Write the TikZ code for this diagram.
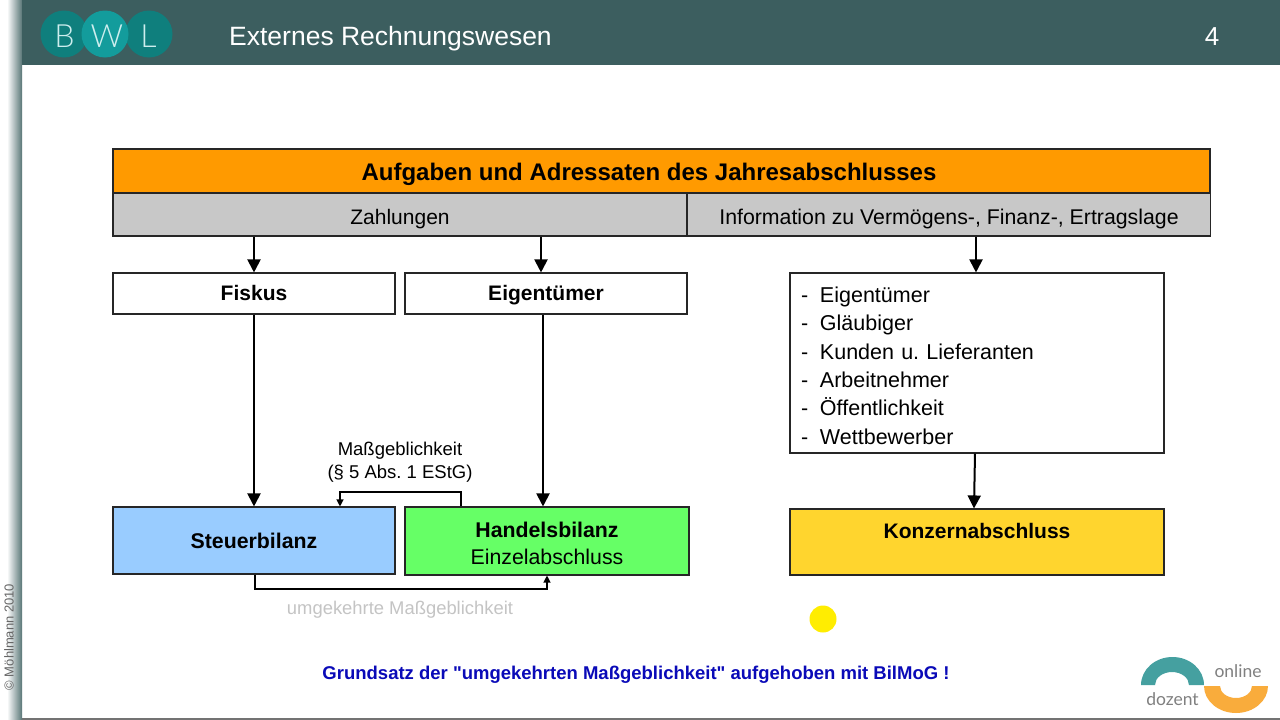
\documentclass[tikz,border=0pt]{standalone}
\usepackage{fontspec}
\setmainfont{Liberation Sans}
\newfontfamily\logofont{Lato}
\newfontfamily\logothin{Lato Light}
\usetikzlibrary{arrows.meta}
\definecolor{headteal}{HTML}{3C5E5F}
\definecolor{logodark}{HTML}{0F7F7D}
\definecolor{logolight}{HTML}{139C9C}
\definecolor{logotext}{HTML}{CDEEEE}
\definecolor{ringteal}{HTML}{45A0A0}
\definecolor{ringorange}{HTML}{F9AC3C}
\definecolor{titleorange}{HTML}{FF9A00}
\definecolor{rowgray}{HTML}{C8C8C8}
\definecolor{steuerblue}{HTML}{99CCFF}
\definecolor{handelgreen}{HTML}{66FF66}
\definecolor{konzernyellow}{HTML}{FFD52E}
\definecolor{notegray}{HTML}{C4C4C4}
\definecolor{noteblue}{HTML}{0A0AB8}
\newcommand{\fs}[2]{\fontsize{#1}{#2}\selectfont}
\newcommand{\listentry}[1]{\makebox[19pt][l]{-}#1}
\tikzset{
  box/.style={draw=black!85, line width=1.1pt, inner sep=0pt, align=center, font=\fs{21}{27}},
  bigarrow/.style={draw=black, line width=2pt, -{Triangle[width=13pt,length=13pt]}},
  smallarrow/.style={draw=black, line width=1.2pt, -{Triangle[width=7pt,length=7pt]}},
  plain/.style={inner sep=0pt, align=center}
}
\begin{document}
\begin{tikzpicture}[x=1pt,y=-1pt]
\useasboundingbox (0,0) rectangle (1280,720);
\fill[white] (0,0) rectangle (1280,720);
% frame
\shade[left color=white, right color=headteal!85] (7,0) rectangle (22,720);
\fill[headteal] (22,0) rectangle (1280,65);
\fill[black!55] (22,718) rectangle (1280,720);
% logo
\node[circle, fill=logodark, minimum size=47pt, inner sep=0pt] at (64,34) (logob) {};
\node[circle, fill=logodark, minimum size=47pt, inner sep=0pt] at (149,34) (logol) {};
\node[circle, fill=logolight, minimum size=47pt, inner sep=0pt] at (105,34) (logow) {};
\node[plain, text=logotext, font=\logothin\fs{32}{32}] at (64.5,36) (textb) {B};
\node[plain, text=logotext, font=\logothin\fs{32}{32}] at (107,36) (textw) {W};
\node[plain, text=logotext, font=\logothin\fs{32}{32}] at (148.5,36) (textl) {L};
\node[plain, text=white, anchor=west, font=\fs{26.5}{26.5}] at (229,38.5) (headline) {Externes Rechnungswesen};
\node[plain, text=white, font=\fs{26}{26}] at (1212,37) (pagenum) {4};
\node[plain, text=black!60, rotate=90, font=\fs{13}{13}] at (9,637) (copyright) {© Möhlmann 2010};
% head rows
\node[box, fill=titleorange, minimum width=1097pt, minimum height=44pt, text height=19pt, text depth=0pt, font=\bfseries\fs{24}{24}] at (661.5,171) (title) {Aufgaben und Adressaten des Jahresabschlusses\hspace*{25pt}};
\node[box, fill=rowgray, minimum width=574pt, minimum height=43pt, text height=20pt, text depth=0pt] at (400,214.5) (zahlungen) {Zahlungen};
\node[box, fill=rowgray, minimum width=523pt, minimum height=43pt, text height=20pt, text depth=0pt, font=\fs{21.3}{27}] at (949,214.5) (information) {Information zu Vermögens-, Finanz-, Ertragslage};
% middle row
\node[box, minimum width=282pt, minimum height=41pt, text height=17pt, text depth=4pt, font=\bfseries\fs{21}{27}] at (254,293.5) (fiskus) {Fiskus};
\node[box, minimum width=282pt, minimum height=41pt, text height=17pt, text depth=4pt, font=\bfseries\fs{21}{27}] at (546,293.5) (eigentuemer) {Eigentümer};
\node[box, minimum width=374pt, minimum height=180pt, text width=352pt, align=left, font=\fs{21.5}{28.3}] at (977,363) (adressaten) {\rule{0pt}{21pt}\listentry{Eigentümer}\\
\listentry{Gläubiger}\\
\listentry{Kunden u.\ Lieferanten}\\
\listentry{Arbeitnehmer}\\
\listentry{Öffentlichkeit}\\
\listentry{Wettbewerber}};
% bottom row
\node[box, fill=steuerblue, minimum width=282pt, minimum height=67pt, font=\bfseries\fs{21.3}{27}] at (254,540.5) (steuer) {Steuerbilanz};
\node[box, fill=handelgreen, minimum width=284pt, minimum height=68pt, font=\fs{21.3}{27}] at (547,541) (handel) {\rule{0pt}{21pt}\textbf{Handelsbilanz}\\Einzelabschluss};
\node[box, fill=konzernyellow, minimum width=374pt, minimum height=66pt, text depth=22pt, font=\bfseries\fs{21}{27}] at (977,542) (konzern) {Konzernabschluss};
% labels
\node[plain, font=\fs{18.5}{23}] at (400,462.5) (mass) {Maßgeblichkeit\\(§ 5 Abs.\ 1 EStG)};
\node[plain, text=notegray, font=\fs{18.4}{18.4}] at (400,610) (umgekehrt) {umgekehrte Maßgeblichkeit};
\node[plain, text=noteblue, font=\bfseries\fs{18.5}{18.5}] at (636,675) (grundsatz) {Grundsatz der \textquotedbl umgekehrten Maßgeblichkeit\textquotedbl{} aufgehoben mit BilMoG !};
\node[circle, fill=yellow!95!orange, minimum size=27pt, inner sep=0pt] at (823,619) (pointer) {};
% connectors
\coordinate (masstop) at (400,492);
\coordinate (umgbottom) at (400,589);
\draw[bigarrow] (zahlungen.south -| fiskus) -- (fiskus);
\draw[bigarrow] ([xshift=-5pt]eigentuemer.north |- zahlungen.south) -- ([xshift=-5pt]eigentuemer.north);
\draw[bigarrow] (information.south -| 976,0) -- (adressaten.north -| 976,0);
\draw[bigarrow] (fiskus) -- (steuer);
\draw[bigarrow] ([xshift=-3pt]eigentuemer.south) -- ([xshift=-4pt]handel.north);
\draw[bigarrow] ([xshift=-2pt]adressaten.south) -- ([xshift=-3pt]konzern.north);
\draw[smallarrow] ([xshift=-86pt]handel.north) |- (masstop) -| ([xshift=86pt]steuer.north);
\draw[smallarrow] ([xshift=1pt]steuer.south) |- (umgbottom) -| (handel.south);
% dozent logo
\fill[ringteal] (1141,685) arc[start angle=180, end angle=360, x radius=31.5, y radius=28] -- (1189,685) arc[start angle=360, end angle=180, x radius=17, y radius=13] -- cycle;
\fill[ringorange] (1204,686) arc[start angle=180, end angle=360, x radius=32, y radius=-27] -- (1252,686) arc[start angle=360, end angle=180, x radius=16, y radius=-12] -- cycle;
\node[plain, text=black!50, font=\logofont\fs{17.5}{17.5}] at (1172.5,699) (dozent) {dozent};
\node[plain, text=black!50, font=\logofont\fs{17.5}{17.5}] at (1238,671) (online) {online};
\end{tikzpicture}
\end{document}
